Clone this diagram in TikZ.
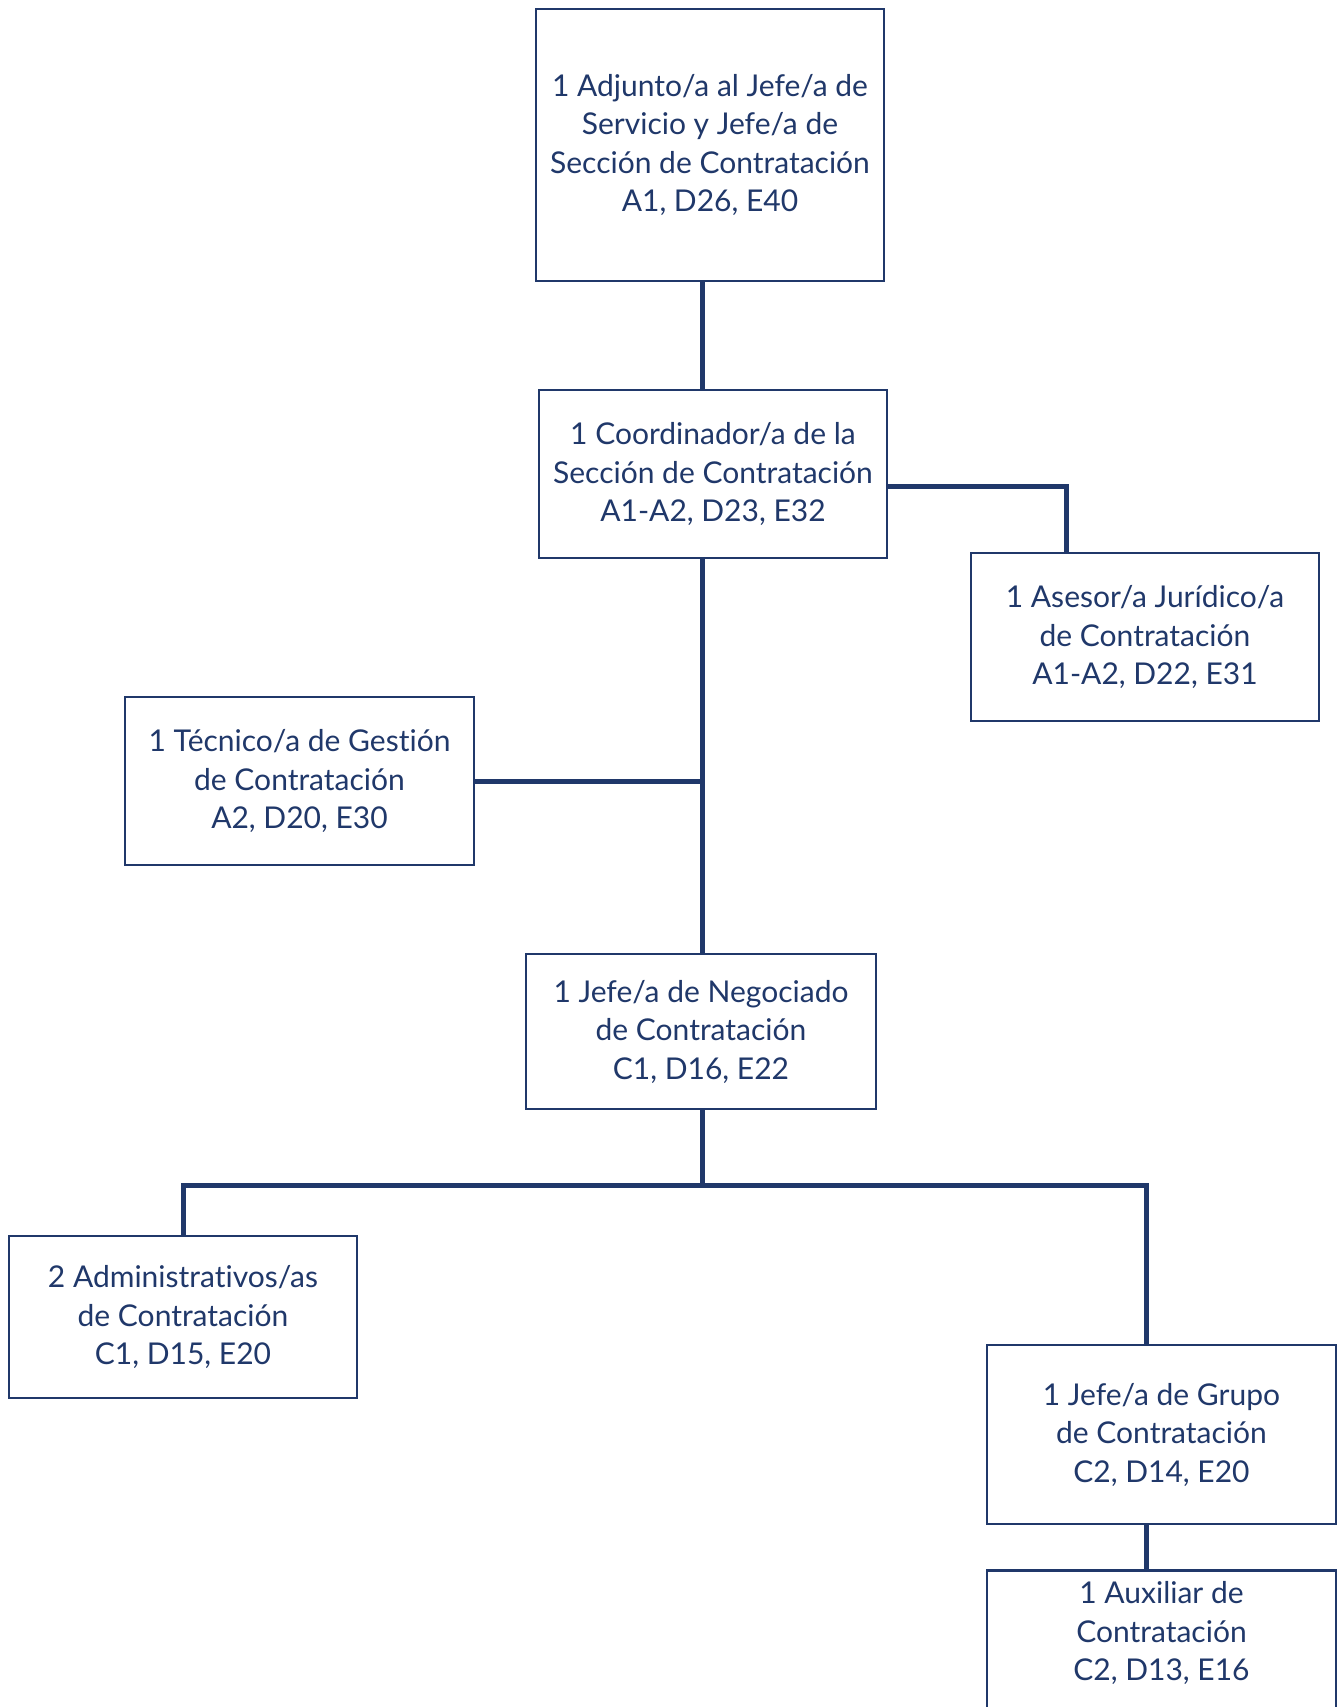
\documentclass[tikz,border=0pt]{standalone}
\usepackage{fontspec}
\setmainfont{Lato}[Ligatures=NoCommon]
\definecolor{navy}{RGB}{32,56,106}
\begin{document}
\begin{tikzpicture}[x=1pt,y=-1pt,
  orgbox/.style={draw=navy,line width=2.8pt,fill=white,text=navy,align=center,
    inner sep=0pt,minimum width=348pt,font=\fontsize{30}{38.5}\selectfont},
  orgtext/.style={text=navy,align=center,inner sep=0pt,font=\fontsize{30}{38.5}\selectfont},
  link/.style={draw=navy,line width=5pt}]
\clip (0,0) rectangle (1340,1707);
\fill[white] (0,0) rectangle (1340,1707);
\coordinate (spine) at (702,0);
\coordinate (rcol) at (1066,0);
\coordinate (lcol) at (183,0);
\coordinate (gcol) at (1146,0);
\coordinate (barY) at (0,1185);
\coordinate (jurY) at (0,486);
\coordinate (tecY) at (0,781);
\node[orgbox,minimum height=272pt] (b1) at (710,145) {1 Adjunto/a al Jefe/a de\\Servicio y Jefe/a de\\Sección de Contratación\\A1, D26, E40};
\node[orgbox,minimum height=168pt] (b2) at (713,474) {1 Coordinador/a de la\\Sección de Contratación\\A1-A2, D23, E32};
\node[orgbox,minimum height=168pt] (b3) at (1145,637) {1 Asesor/a Jurídico/a\\de Contratación\\A1-A2, D22, E31};
\node[orgbox,minimum height=168pt,minimum width=349pt] (b4) at (299.5,781) {1 Técnico/a de Gestión\\de Contratación\\A2, D20, E30};
\node[orgbox,minimum height=155pt,minimum width=350pt] (b5) at (701,1031.5) {1 Jefe/a de Negociado\\de Contratación\\C1, D16, E22};
\node[orgbox,minimum height=162pt] (b6) at (183,1317) {2 Administrativos/as\\de Contratación\\C1, D15, E20};
\node[orgbox,minimum height=179pt,minimum width=349pt] (b7) at (1161.5,1434.5) {1 Jefe/a de Grupo\\de Contratación\\C2, D14, E20};
\node[orgbox,minimum height=240pt,minimum width=349pt,anchor=north] (b8) at (1161.5,1569) {};
\node[orgtext] (b8t) at (1161.5,1633) {1 Auxiliar de\\Contratación\\C2, D13, E16};
\draw[link] (b1.south -| spine) -- (b2.north -| spine);
\draw[link] (b2.south -| spine) -- (b5.north -| spine);
\draw[link] (b2.east |- jurY) -- (rcol |- jurY) -- (b3.north -| rcol);
\draw[link] (b4.east |- tecY) -- (spine |- tecY);
\draw[link] (b5.south -| spine) -- (spine |- barY);
\draw[link] (b6.north -| lcol) -- (lcol |- barY) -- (gcol |- barY) -- (b7.north -| gcol);
\draw[link] (b7.south -| gcol) -- (b8.north -| gcol);
\end{tikzpicture}
\end{document}
